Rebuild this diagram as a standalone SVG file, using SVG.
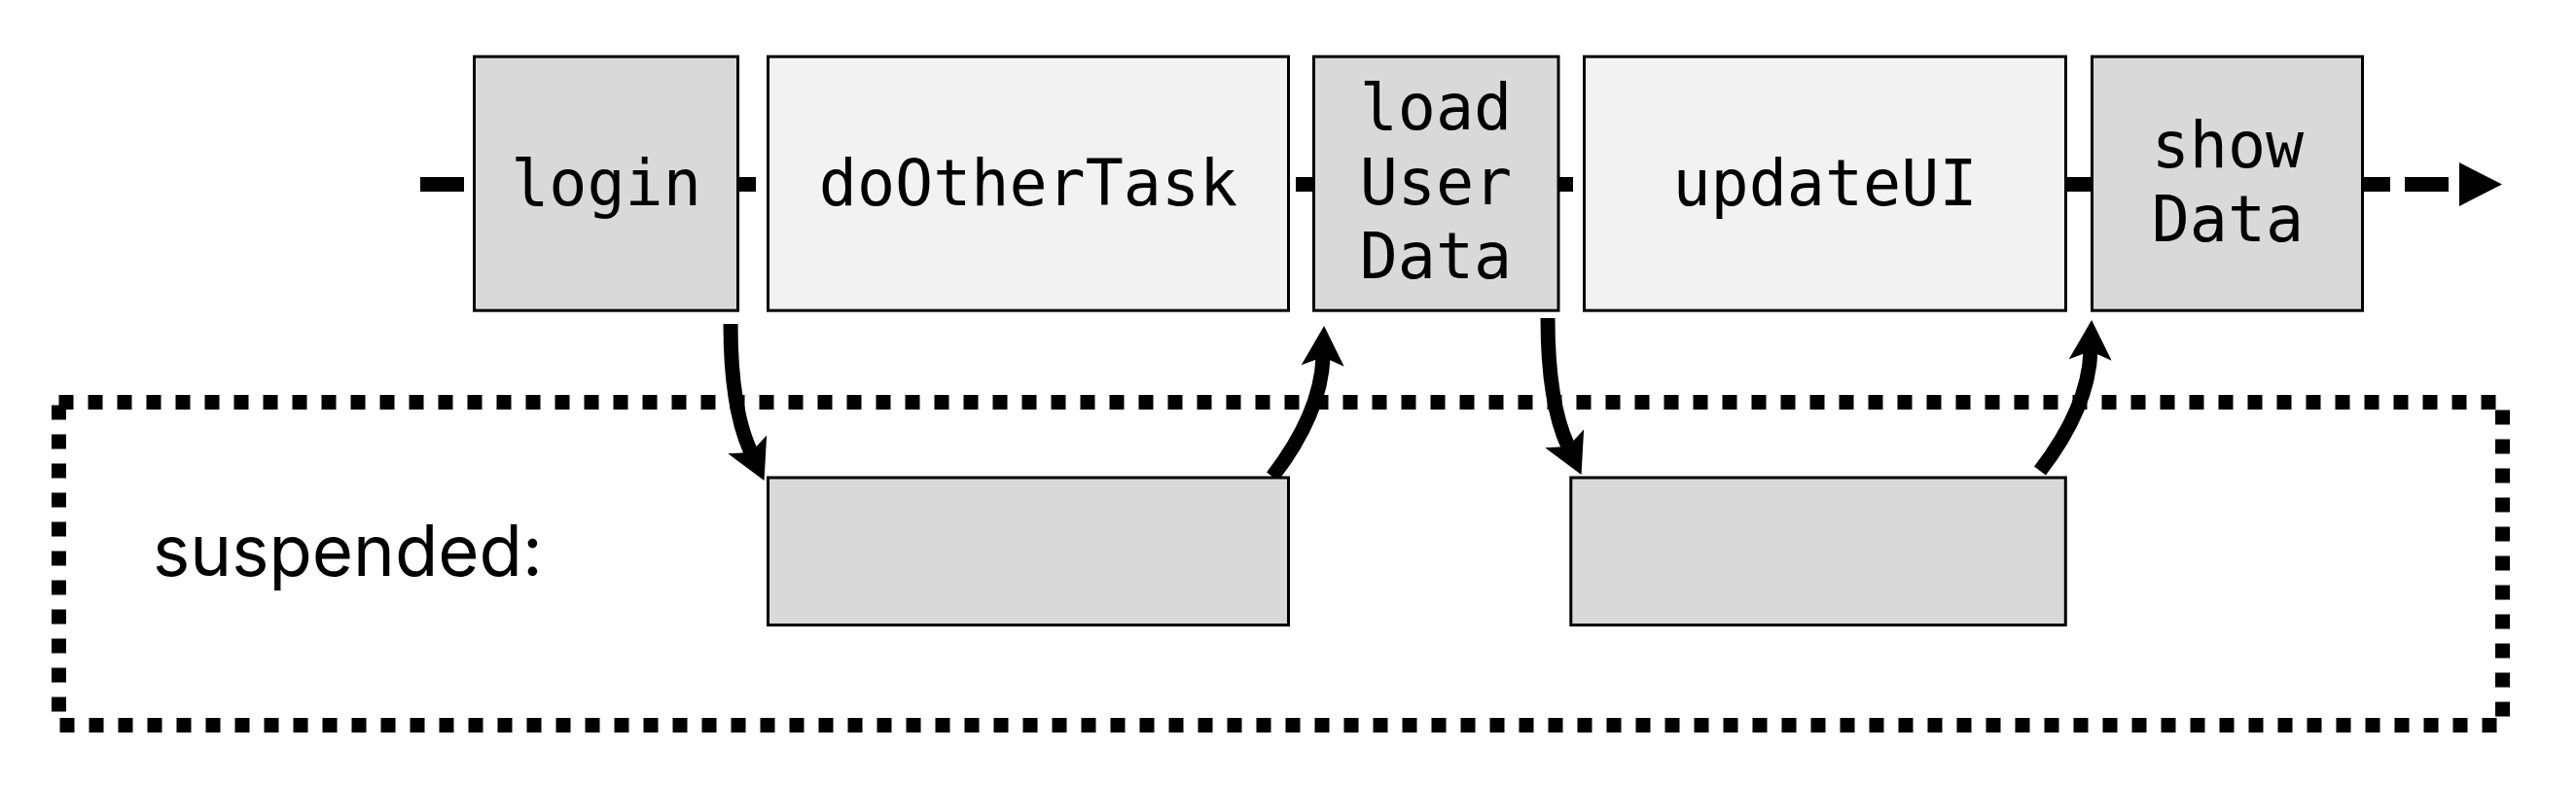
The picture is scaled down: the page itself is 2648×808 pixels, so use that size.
<svg xmlns="http://www.w3.org/2000/svg" width="2648" height="808" viewBox="0 0 2648 808">
<defs>
<style>
.box{stroke:#000;stroke-width:3}
.dark{fill:#d9d9d9}
.light{fill:#f2f2f2}
.code{font-family:"DejaVu Sans Mono","Liberation Mono",monospace;font-size:65px;fill:#000;text-anchor:middle}
.label{font-family:Inter,"Liberation Sans",sans-serif;font-size:72.5px;fill:#000}
.flow{stroke:#000;stroke-width:15;stroke-dasharray:45 15;fill:none}
.curve{stroke:#000;stroke-width:15;fill:none;marker-end:url(#classic)}
.dotted{fill:none;stroke:#000;stroke-width:15;stroke-dasharray:15 15}
</style>
<marker id="classic" markerUnits="userSpaceOnUse" viewBox="-20 -30 60 60" markerWidth="60" markerHeight="60" refX="0" refY="0" orient="auto">
<path d="M32,0 L-9,-22 L0,0 L-9,22 Z" fill="#000"/>
</marker>
<marker id="flowhead" markerUnits="userSpaceOnUse" viewBox="0 -30 60 60" markerWidth="60" markerHeight="60" refX="0" refY="0" orient="auto">
<path d="M11,-22.5 L55,0 L11,22.5 Z" fill="#000"/>
</marker>
</defs>
<rect width="2648" height="808" fill="#fff"/>
<g id="connectors">
<line class="flow" x1="432" y1="189.5" x2="2517" y2="189.5" marker-end="url(#flowhead)"/>
<path class="curve" d="M751,333 Q751,420 772,465"/>
<path class="curve" d="M1308,490 Q1358,425 1360,367"/>
<path class="curve" d="M1591,327 Q1591,414 1612,459"/>
<path class="curve" d="M2097,484 Q2147,419 2149,361"/>
</g>
<g id="suspended-area">
<rect class="dotted" x="60.5" y="413.5" width="2512" height="332"/>
<text class="label" x="157" y="592">suspended:</text>
</g>
<g id="login">
<rect class="box dark" x="487.5" y="58.2" width="271" height="261"/>
<text class="code" x="623" y="211">login</text>
</g>
<g id="doOtherTask">
<rect class="box light" x="789.5" y="58.2" width="535" height="261"/>
<text class="code" x="1057" y="211">doOtherTask</text>
</g>
<g id="loadUserData">
<rect class="box dark" x="1350.5" y="58.2" width="251.5" height="261"/>
<text class="code" x="1476" y="133">load<tspan x="1476" y="210">User</tspan><tspan x="1476" y="286">Data</tspan></text>
</g>
<g id="updateUI">
<rect class="box light" x="1628.5" y="58.2" width="495" height="261"/>
<text class="code" x="1876" y="211">updateUI</text>
</g>
<g id="showData">
<rect class="box dark" x="2150.5" y="58.2" width="278" height="261"/>
<text class="code" x="2290" y="172">show<tspan x="2290" y="248">Data</tspan></text>
</g>
<g id="suspended-login">
<rect class="box dark" x="789.5" y="491" width="535" height="151.5"/>
</g>
<g id="suspended-loadUserData">
<rect class="box dark" x="1614.8" y="491" width="508.5" height="151.5"/>
</g>
</svg>
